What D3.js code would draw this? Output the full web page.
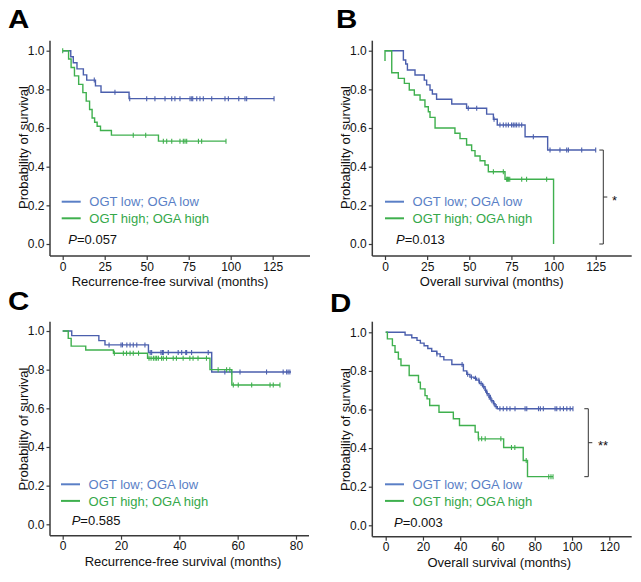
<!DOCTYPE html>
<html><head><meta charset="utf-8">
<script src="https://cdn.jsdelivr.net/npm/d3@7"></script>
<style>body{margin:0;background:#fff} svg{display:block} text{font-family:"Liberation Sans",Arial,sans-serif}</style>
</head><body>
<svg id="chart" width="641" height="582"></svg>
<script>
// ---------- DATA ----------
const legendLabels = ["OGT low; OGA low", "OGT high; OGA high"];
const panelLetters = ["A", "B", "C", "D"];
const pValues = ["0.057", "0.013", "0.585", "0.003"];
const xTitles = ["Recurrence-free survival (months)", "Overall survival (months)",
                 "Recurrence-free survival (months)", "Overall survival (months)"];
const sigMarks = [null, "*", null, "**"];
const yTicks = [0, 0.2, 0.4, 0.6, 0.8, 1.0];
const xTicksA = [0, 25, 50, 75, 100, 125];
const xTicksB = [0, 25, 50, 75, 100, 125];
const xTicksC = [0, 20, 40, 60, 80];
const xTicksD = [0, 20, 40, 60, 80, 100, 120];

// Panel A – recurrence-free survival
const aLowTimes  = [0, 4.8, 6.3, 8.5, 12.3, 14.3, 19.5, 22.8, 39.5];
const aLowSurv   = [1, 0.969, 0.938, 0.906, 0.875, 0.848, 0.818, 0.785, 0.752];
const aLowEnd    = 125.8;
const aLowCens   = [18.8, 31.1, 39.9, 50, 54.9, 60.9, 64.9, 66.8, 69.8, 75.8, 76.8, 77.4, 79.8, 81.7, 83.7, 88.7, 96.6, 98.6, 104.8, 108.5, 109.5, 125.8];
const aHighTimes = [0, 3.5, 5, 7, 9.5, 12, 14, 16, 17.5, 19, 20.5, 22.5, 29, 57];
const aHighSurv  = [1, 0.957, 0.913, 0.870, 0.826, 0.783, 0.739, 0.696, 0.652, 0.630, 0.609, 0.587, 0.563, 0.532];
const aHighEnd   = 97.2;
const aHighCens  = [0, 42, 49.4, 59.9, 61.9, 64.9, 69.8, 71.8, 72.8, 73.8, 80.8, 82.7, 97.2];

// Panel B – overall survival
const bLowTimes  = [0, 10.9, 12.3, 13.3, 17.8, 23.3, 24.7, 26.7, 28.1, 30.6, 39.6, 48.4, 60.3, 64.3, 66.6, 83.1, 96.5];
const bLowSurv   = [1, 0.952, 0.931, 0.900, 0.874, 0.848, 0.823, 0.797, 0.776, 0.749, 0.724, 0.702, 0.672, 0.645, 0.616, 0.555, 0.486];
const bLowEnd    = 125;
const bLowCens   = [49.4, 54.4, 64.7, 68.2, 70.2, 71.8, 73.2, 75.1, 76.1, 77.1, 78.1, 79.5, 81.1, 88, 97.9, 103.8, 107.8, 108.8, 116.7, 125];
const bHighTimes = [0, 0, 4.0, 7.9, 11.5, 14.4, 17.4, 20.8, 23.7, 25.7, 26.7, 29.7, 41.5, 44.5, 48.4, 51.4, 53.4, 56.4, 59.3, 61.3, 71.2, 100];
const bHighSurv  = [0.947, 1, 0.886, 0.857, 0.831, 0.797, 0.771, 0.745, 0.710, 0.684, 0.655, 0.600, 0.573, 0.545, 0.512, 0.483, 0.455, 0.431, 0.409, 0.374, 0.335, 0];
const bHighEnd   = 100;
const bHighCens  = [64.3, 70.2, 72.2, 72.6, 73.2, 74, 81.1, 84, 95.9];

// Panel C – recurrence-free survival
const cLowTimes  = [0, 3.1, 12.4, 14.5, 29.4, 51.1];
const cLowSurv   = [1, 0.976, 0.950, 0.928, 0.889, 0.788];
const cLowEnd    = 78.3;
const cLowCens   = [15.9, 20.0, 20.5, 22.0, 23.1, 24.2, 25.4, 28.2, 30.0, 30.5, 33.7, 34.2, 34.5, 36.2, 39.6, 40.8, 42.2, 42.5, 44.2, 49.9, 55.6, 57.9, 60.8, 69.9, 75.6, 76.8, 77.3, 77.9];
const cHighTimes = [0, 1.9, 2.9, 7.9, 17.4, 29.1, 50.5, 58.0];
const cHighSurv  = [1, 0.962, 0.922, 0.902, 0.885, 0.859, 0.800, 0.721];
const cHighEnd   = 74.5;
const cHighCens  = [17.7, 20.8, 21.9, 23.1, 24.2, 26.0, 29.6, 30.3, 31.1, 31.7, 32.2, 32.8, 33.9, 34.5, 35.6, 37.9, 39.0, 41.3, 43.6, 44.7, 46.4, 49.3, 53.3, 56.2, 57.3, 58.5, 60.2, 64.8, 71.1, 72.2, 74.5];

// Panel D – overall survival
const dLowTimes  = [0, 10.4, 14, 16.8, 18.6, 20.6, 22.6, 24.7, 27.4, 29.2, 31.2, 35.5, 41.7, 43.5, 45.2, 47.4, 48.8, 50.3, 52, 53.3, 54.2, 55.4, 56.5, 57.8, 58.7, 59.9];
const dLowSurv   = [1, 0.986, 0.972, 0.958, 0.944, 0.930, 0.916, 0.902, 0.888, 0.874, 0.857, 0.833, 0.800, 0.782, 0.768, 0.762, 0.752, 0.735, 0.718, 0.700, 0.682, 0.663, 0.645, 0.630, 0.615, 0.604];
const dLowEnd    = 100.5;
const dLowCens   = [27.5, 41, 44, 46, 48.2, 50, 51.2, 52.6, 53.6, 54.5, 55.6, 56.2, 57, 58.2, 59.3, 61.3, 63.1, 65.0, 66.7, 69.4, 74.8, 75.7, 82.0, 83.0, 84.6, 90.9, 91.8, 93.6, 95.4, 97.2, 99.0, 100.5];
const dHighTimes = [0, 0.9, 3.6, 5.0, 6.8, 8.2, 12.6, 17.6, 18.6, 21.1, 22.2, 23.6, 28.6, 36.3, 39.6, 48.0, 49.7, 63.3, 73.8, 76.1];
const dHighSurv  = [1, 0.966, 0.931, 0.897, 0.862, 0.828, 0.776, 0.741, 0.707, 0.672, 0.655, 0.621, 0.586, 0.552, 0.517, 0.483, 0.448, 0.403, 0.336, 0.252];
const dHighEnd   = 89.8;
const dHighCens  = [49.9, 51.5, 53.4, 61.8, 67.5, 69.3, 75.4, 87.5, 88.7, 89.8];

// ---------- LAYOUT ----------
const COL_LOW = "#4b5fad", COL_HIGH = "#3fb04e";
const COL_LOW_TXT = "#5a7fc6", COL_HIGH_TXT = "#35a84a";
const AXIS = "#3a3a3a";

const panels = [
  { letter: 0, ticks: xTicksA, dom: [0,125], rng: [62.7,272.7], yr: [244,50.7], axX: 50, axY: 256, yTop: 40.7, xRight: 310,
    lx: [50, 28, 8], titleX: 170, yTitleY: 147.5, yTitleX: 28, legX0: 61.7, legY: 201.7, pX: 68.3, pY: 243.5,
    groups: [[aLowTimes,aLowSurv,aLowEnd,aLowCens],[aHighTimes,aHighSurv,aHighEnd,aHighCens]] },
  { letter: 1, ticks: xTicksB, dom: [0,125], rng: [385,595.7], yr: [244,50.7], axX: 372.3, axY: 256, yTop: 40.7, xRight: 631.7,
    lx: [0,28,336], titleX: 491.7, yTitleY: 147.5, yTitleX: 350, legX0: 385, legY: 201.7, pX: 396, pY: 243.5,
    bracketX: 603.3, sigX: 612, sigY: 205,
    groups: [[bLowTimes,bLowSurv,bLowEnd,bLowCens],[bHighTimes,bHighSurv,bHighEnd,bHighCens]] },
  { letter: 2, ticks: xTicksC, dom: [0,80], rng: [62.7,296], yr: [524.3,331], axX: 50, axY: 535.7, yTop: 321.7, xRight: 309,
    lx: [0,310,8], titleX: 183, yTitleY: 429, yTitleX: 28, legX0: 61, legY: 484.3, pX: 71.7, pY: 524.5,
    groups: [[cLowTimes,cLowSurv,cLowEnd,cLowCens],[cHighTimes,cHighSurv,cHighEnd,cHighCens]] },
  { letter: 3, ticks: xTicksD, dom: [0,120], rng: [385.7,609.3], yr: [525.3,332.3], axX: 372.3, axY: 536.7, yTop: 321.7, xRight: 631.7,
    lx: [0,312.5,330], titleX: 499.3, yTitleY: 429.5, yTitleX: 349.5, legX0: 385, legY: 484.3, pX: 394, pY: 527,
    bracketX: 588.3, sigX: 598, sigY: 450,
    groups: [[dLowTimes,dLowSurv,dLowEnd,dLowCens],[dHighTimes,dHighSurv,dHighEnd,dHighCens]] }
];

const svg = d3.select("#chart");
svg.append("rect").attr("width", 641).attr("height", 582).attr("fill", "#fff");

function survAt(times, surv, t) {
  let s = surv[0];
  for (let i = 0; i < times.length; i++) if (times[i] <= t) s = surv[i];
  return s;
}

panels.forEach((p, pi) => {
  const x = d3.scaleLinear().domain(p.dom).range(p.rng);
  const y = d3.scaleLinear().domain([0, 1]).range(p.yr);
  const g = svg.append("g");

  // panel letter
  g.append("text").attr("x", p.lx[2]).attr("y", p.lx[1])
    .attr("font-size", 25).attr("font-weight", "bold").attr("fill", "#000")
    .attr("transform", `translate(${p.lx[2]},0) scale(1.18,1) translate(${-p.lx[2]},0)`)
    .text(panelLetters[p.letter]);

  // axes lines
  g.append("line").attr("x1", p.axX).attr("x2", p.axX).attr("y1", p.yTop).attr("y2", p.axY)
    .attr("stroke", AXIS).attr("stroke-width", 1.5);
  g.append("line").attr("x1", p.axX).attr("x2", p.xRight).attr("y1", p.axY).attr("y2", p.axY)
    .attr("stroke", AXIS).attr("stroke-width", 1.5);

  // y axis ticks
  const ya = d3.axisLeft(y).tickValues(yTicks).tickFormat(d3.format(".1f")).tickSize(3.5).tickPadding(2);
  const yg = g.append("g").attr("transform", `translate(${p.axX},0)`).call(ya);
  yg.select(".domain").remove();
  yg.selectAll("line").attr("stroke", AXIS).attr("stroke-width", 1.2);
  yg.selectAll("text").attr("font-size", 12).attr("fill", "#111")
    .attr("font-family", '"Liberation Sans",Arial,sans-serif');

  // x axis ticks
  const xa = d3.axisBottom(x).tickValues(p.ticks).tickFormat(d3.format("d")).tickSize(4).tickPadding(2);
  const xg = g.append("g").attr("transform", `translate(0,${p.axY})`).call(xa);
  xg.select(".domain").remove();
  xg.selectAll("line").attr("stroke", AXIS).attr("stroke-width", 1.2);
  xg.selectAll("text").attr("font-size", 12).attr("fill", "#111")
    .attr("font-family", '"Liberation Sans",Arial,sans-serif');

  // axis titles
  g.append("text").attr("x", p.titleX).attr("y", p.axY + 30).attr("text-anchor", "middle")
    .attr("font-size", 13).attr("fill", "#111").text(xTitles[pi]);
  g.append("text").attr("transform", `translate(${p.yTitleX},${p.yTitleY}) rotate(-90)`)
    .attr("text-anchor", "middle").attr("font-size", 13).attr("fill", "#111").text("Probability of survival");

  // curves
  const line = d3.line().x(d => x(d[0])).y(d => y(d[1])).curve(d3.curveStepAfter);
  const cols = [COL_LOW, COL_HIGH];
  p.groups.forEach((grp, gi) => {
    const [times, surv, end, cens] = grp;
    const pts = times.map((t, i) => [t, surv[i]]);
    const last = pts[pts.length - 1];
    if (end > last[0]) pts.push([end, last[1]]);
    g.append("path").datum(pts).attr("d", line).attr("fill", "none")
      .attr("stroke", cols[gi]).attr("stroke-width", 1.4);
    g.selectAll(null).data(cens).enter().append("line")
      .attr("x1", d => x(d)).attr("x2", d => x(d))
      .attr("y1", d => y(survAt(times, surv, d)) - 2.5)
      .attr("y2", d => y(survAt(times, surv, d)) + 2.5)
      .attr("stroke", cols[gi]).attr("stroke-width", 1.1);
  });

  // legend
  const legCols = [COL_LOW_TXT, COL_HIGH];
  const txtCols = [COL_LOW_TXT, COL_HIGH_TXT];
  legendLabels.forEach((lab, li) => {
    const ly = p.legY + li * 16.6;
    g.append("line").attr("x1", p.legX0).attr("x2", p.legX0 + 19).attr("y1", ly).attr("y2", ly)
      .attr("stroke", legCols[li]).attr("stroke-width", 2);
    g.append("text").attr("x", p.legX0 + 27.6).attr("y", ly + 4.6).attr("font-size", 13)
      .attr("fill", txtCols[li]).text(lab);
  });

  // P value
  const pt = g.append("text").attr("x", p.pX).attr("y", p.pY).attr("font-size", 13).attr("fill", "#111");
  pt.append("tspan").attr("font-style", "italic").text("P");
  pt.append("tspan").text("=" + pValues[pi]);

  // significance bracket
  if (sigMarks[pi]) {
    const lowS = p.groups[0][1][p.groups[0][1].length - 1];
    const highS = p.groups[1][1][p.groups[1][1].length - 1];
    const yt = y(lowS), yb = y(highS), bx = p.bracketX, ym = (yt + yb) / 2;
    g.append("path").attr("d", `M${bx - 4},${yt}H${bx}V${yb}H${bx - 4}M${bx},${ym}H${bx + 4}`)
      .attr("fill", "none").attr("stroke", "#333").attr("stroke-width", 1);
    g.append("text").attr("x", p.sigX).attr("y", p.sigY).attr("font-size", 13).attr("fill", "#111")
      .text(sigMarks[pi]);
  }
});
</script>
</body></html>
